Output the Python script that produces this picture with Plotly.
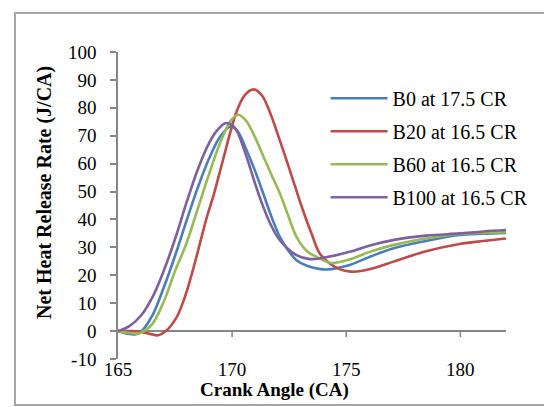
import plotly.graph_objects as go

# ---- data ----
series_names = ["B0 at 17.5 CR", "B20 at 16.5 CR", "B60 at 16.5 CR", "B100 at 16.5 CR"]
series_colors = ["#4A7EBB", "#BE4B48", "#98B954", "#7D60A0"]

b0_x = [165.0, 165.4, 165.75, 166.0, 166.5, 167.0, 167.5, 168.0, 168.5, 169.0,
        169.5, 169.95, 170.25, 170.63, 171.0, 171.36, 171.7, 172.09, 172.45, 172.82,
        173.3, 173.8, 174.2, 174.6, 175.15, 176.0, 177.04, 178.5, 179.96, 181.0, 182.0]
b0_y = [0.0, -0.9, -1.2, -0.3, 5.5, 15.5, 27.0, 39.5, 51.5, 62.0,
        70.0, 73.3, 71.5, 64.9, 57.5, 49.4, 41.5, 33.8, 29.0, 25.4,
        23.3, 22.3, 22.1, 22.6, 23.7, 26.5, 29.6, 32.3, 34.4, 34.9, 35.2]

b20_x = [165.0, 165.5, 165.96, 166.4, 166.76, 167.1, 167.57, 167.9, 168.2, 168.45, 168.88, 169.2,
         169.6, 170.19, 170.55, 170.95, 171.3, 171.65, 172.0, 172.38, 172.75, 173.1, 173.5,
         173.84, 174.27, 174.7, 175.2, 175.7, 176.5, 177.04, 178.5, 179.96, 181.0, 182.0]
b20_y = [0.0, 0.0, -0.2, -1.0, -1.5, 0.0, 5.0, 11.5, 19.5, 27.0, 40.5, 49.0,
         61.3, 78.5, 84.5, 86.6, 84.5, 78.5, 70.5, 61.3, 52.0, 43.4, 34.5,
         27.8, 24.3, 22.2, 21.3, 21.6, 23.3, 24.8, 28.6, 31.2, 32.3, 33.2]

b60_x = [165.0, 165.4, 165.8, 166.0, 166.5, 167.0, 167.5, 168.0, 168.5, 169.0,
         169.5, 169.95, 170.26, 170.6, 171.0, 171.4, 171.75, 172.09, 172.45, 172.82, 173.3,
         173.7, 174.35, 175.15, 176.0, 177.04, 178.5, 179.96, 181.0, 182.0]
b60_y = [0.0, -0.6, -0.9, -0.6, 2.5, 10.5, 21.5, 31.5, 44.0, 56.5,
         68.0, 75.5, 77.5, 75.5, 69.5, 62.0, 55.5, 49.4, 41.5, 33.8, 28.5,
         26.6, 24.4, 25.7, 28.3, 30.8, 33.2, 34.8, 35.2, 35.4]

b100_x = [165.0, 165.5, 166.0, 166.5, 167.0, 167.5, 168.0, 168.5, 169.0, 169.35, 169.7,
          170.0, 170.19, 170.63, 171.0, 171.36, 171.7, 172.09, 172.82, 173.4, 174.0, 175.15,
          176.0, 177.04, 178.5, 179.96, 181.0, 182.0]
b100_y = [0.0, 1.8, 5.5, 12.0, 21.5, 33.0, 46.0, 58.0, 67.5, 72.0, 74.5,
          73.8, 72.0, 62.5, 53.0, 44.6, 38.0, 32.6, 27.2, 25.8, 26.3, 28.4,
          30.6, 32.6, 34.2, 35.0, 35.7, 36.2]

x_ticks = [165, 170, 175, 180]
y_ticks = [-10, 0, 10, 20, 30, 40, 50, 60, 70, 80, 90, 100]
x_title = "Crank Angle (CA)"
y_title = "Net Heat Release Rate (J/CA)"

FONT = "Liberation Serif, Times New Roman, serif"
AXIS_GRAY = "#868686"

fig = go.Figure()
for name, color, xs, ys in zip(series_names, series_colors,
                               [b0_x, b20_x, b60_x, b100_x],
                               [b0_y, b20_y, b60_y, b100_y]):
    fig.add_trace(go.Scatter(x=xs, y=ys, mode="lines", name=name, legendgroup=name,
                             line=dict(color=color, width=2.6, shape="spline", smoothing=1.0)))

# x-axis tick marks drawn at y = 0 (axis crosses at zero)
for t in x_ticks[1:]:
    fig.add_shape(type="line", xref="x", yref="y", x0=t, x1=t, ysizemode="pixel",
                  yanchor=0, y0=0, y1=-6, line=dict(color=AXIS_GRAY, width=1.5))

# outer chart border
fig.add_shape(type="rect", xref="paper", yref="paper", x0=-0.2655, x1=1.14, y0=-0.1498, y1=1.127,
              line=dict(color="#A6A6A6", width=2), fillcolor="rgba(0,0,0,0)", layer="below")

fig.add_annotation(text="<b>%s</b>" % x_title, xref="paper", yref="paper", x=0.4046, y=-0.1,
                   showarrow=False, xanchor="center", yanchor="middle",
                   font=dict(family=FONT, size=19, color="black"))
fig.add_annotation(text="<b>%s</b>" % y_title, xref="paper", yref="paper", x=-0.1907, y=0.5407,
                   showarrow=False, xanchor="center", yanchor="middle", textangle=-90,
                   font=dict(family=FONT, size=20, color="black"))

# page body has an 8px margin, so the figure is shifted by 8px; compensate
fig.update_layout(
    width=544, height=399,
    margin=dict(l=110, r=46, t=44, b=48),
    paper_bgcolor="white", plot_bgcolor="white",
    font=dict(family=FONT, size=19, color="black"),
    showlegend=True,
    legend=dict(x=0.535, y=0.913, xanchor="left", yanchor="top", tracegroupgap=4,
                itemwidth=57,
                bgcolor="rgba(0,0,0,0)", font=dict(family=FONT, size=20, color="black")),
    xaxis=dict(range=[165, 182], tickvals=x_ticks, ticktext=[str(v) for v in x_ticks],
               showgrid=False, zeroline=False, showline=False, ticks="",
               ticklabelstandoff=-3,
               tickfont=dict(family=FONT, size=19, color="black")),
    yaxis=dict(range=[-10, 100], tickvals=y_ticks, ticktext=[str(v) for v in y_ticks],
               showgrid=False, zeroline=True, zerolinecolor=AXIS_GRAY, zerolinewidth=1.5,
               showline=True, linecolor=AXIS_GRAY, linewidth=1.5,
               ticks="outside", ticklen=6, tickcolor=AXIS_GRAY, tickwidth=1.5,
               ticklabelstandoff=10,
               tickfont=dict(family=FONT, size=19, color="black")),
)

fig.write_html("out.html")
